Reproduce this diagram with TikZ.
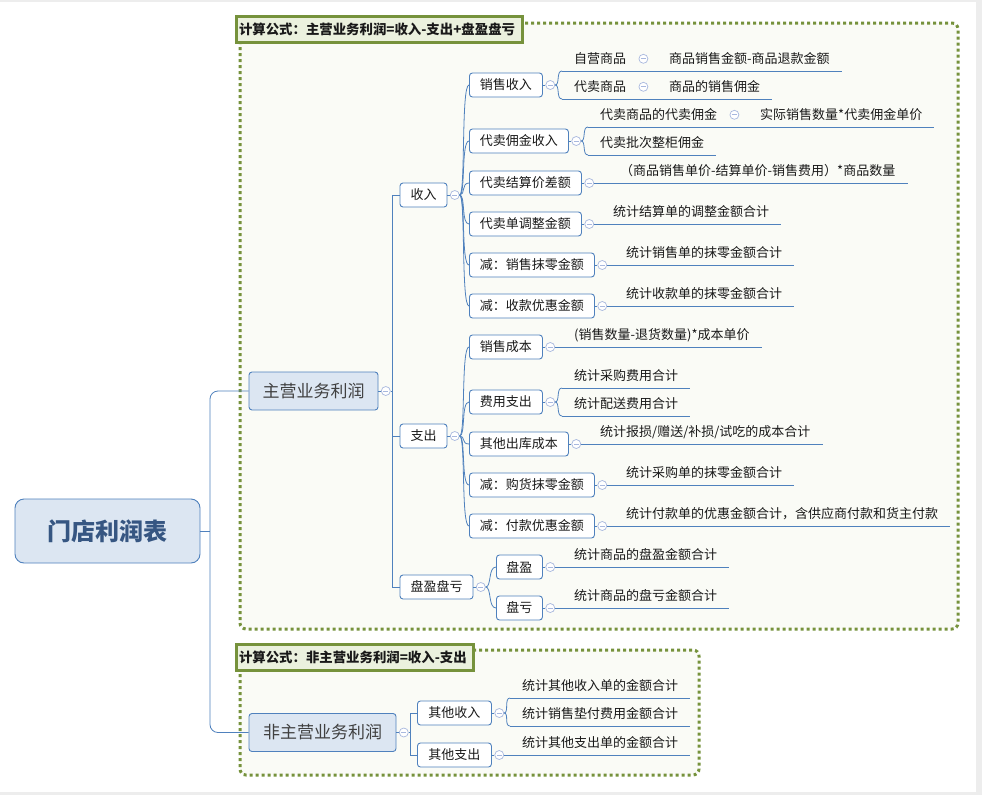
\documentclass[tikz,border=0pt]{standalone}
\usepackage{fontspec}
\newfontfamily\cjk{Noto Sans CJK SC}
\usetikzlibrary{positioning,calc}

\definecolor{linkc}{RGB}{79,129,189}
\definecolor{boxfill}{RGB}{220,230,242}
\definecolor{rootc}{RGB}{54,86,130}
\definecolor{zonegreen}{RGB}{118,146,60}
\definecolor{zonefill}{RGB}{250,251,246}
\definecolor{tagfill}{RGB}{235,241,222}
\definecolor{foldc}{RGB}{168,184,222}

\tikzset{
  link/.style={draw=linkc, line width=0.8pt},
  topic/.style={draw=linkc, line width=0.9pt, fill=white, rounded corners=3pt, minimum height=24pt, inner sep=0pt, font=\cjk\fontsize{13}{13}\selectfont},
  major/.style={topic, fill=boxfill, minimum height=38pt, font=\cjk\fontsize{17}{17}\selectfont, text=black!75},
  leaf/.style={anchor=south west, inner xsep=12pt, inner ysep=0pt, text height=10pt, text depth=7pt, font=\cjk\fontsize{13}{13}\selectfont},
  fold/.style={circle, draw=foldc, fill=white, minimum size=9pt, inner sep=0pt, line width=0.7pt,
    path picture={\draw[foldc, line width=0.7pt] ([xshift=-2.5pt]path picture bounding box.center) -- ([xshift=2.5pt]path picture bounding box.center);}},
  zone/.style={draw=zonegreen, fill=zonefill, line width=3pt, dash pattern=on 3pt off 3pt, rounded corners=6pt},
  tag/.style={draw=zonegreen, fill=tagfill, line width=3pt, anchor=west, inner xsep=3pt, align=left, minimum height=26pt, font=\cjk\bfseries\fontsize{13.4}{13.4}\selectfont},
}

\begin{document}
\begin{tikzpicture}[x=1pt, y=-1pt, font=\cjk, text=black!90]
	%FOND
	\fill[black!7] (0,0) rectangle (982,795);
	\fill[white] (0,2) rectangle (976,792);
	\useasboundingbox (0,0) rectangle (982,795);
	
	%ZONES
	\draw[zone] (240,23) rectangle (958,629);
	\draw[zone] (240,650) rectangle (699,775);
	\node[tag, text width=280pt] (tag1) at (234.5,29.5) {计算公式：主营业务利润=收入-支出+盘盈盘亏};
	\node[tag, text width=231pt] (tag2) at (234.5,657.5) {计算公式：非主营业务利润=收入-支出};
	
	%RACINE
	\node[topic, fill=boxfill, rounded corners=9pt, minimum width=185pt, minimum height=64pt, font=\cjk\bfseries\fontsize{24}{24}\selectfont, text=rootc] (root) at (107.5,531) {门店利润表};
	\node[major, minimum width=129pt] (main) at (313.5,391) {主营业务利润};
	\node[major, minimum width=147pt] (other) at (322.5,732.5) {非主营业务利润};
	\coordinate (trunk) at (210,531);
	\draw[link] (root.east) -- (trunk);
	\draw[link, rounded corners=8pt] (main.west) -| (trunk) |- (other.west);
	
	%NIVEAU 2
	\node[topic, minimum width=47pt] (sr) at (423.5,195) {收入};
	\node[topic, minimum width=47pt] (zc) at (423.5,436) {支出};
	\node[topic, minimum width=73pt] (pkk) at (436.5,587) {盘盈盘亏};
	\node[topic, anchor=west, minimum width=74pt] (qtsr) at (417,713) {其他收入};
	\node[topic, anchor=west, minimum width=74pt] (qtzc) at (417,755) {其他支出};
	
	%NIVEAU 3
	\node[topic, anchor=west, minimum width=73pt] (xssr) at (469,85) {销售收入};
	\node[topic, anchor=west, minimum width=99pt] (dmsr) at (469,141) {代卖佣金收入};
	\node[topic, anchor=west, minimum width=112pt] (jscj) at (469,183) {代卖结算价差额};
	\node[topic, anchor=west, minimum width=112pt] (dtz) at (469,224) {代卖单调整金额};
	\node[topic, anchor=west, minimum width=125pt] (xsml) at (469,265) {减：销售抹零金额};
	\node[topic, anchor=west, minimum width=125pt] (skyh) at (469,306) {减：收款优惠金额};
	\node[topic, anchor=west, minimum width=73pt] (xscb) at (469,347) {销售成本};
	\node[topic, anchor=west, minimum width=73pt] (fyzc) at (469,402) {费用支出};
	\node[topic, anchor=west, minimum width=99pt] (qtck) at (469,444) {其他出库成本};
	\node[topic, anchor=west, minimum width=125pt] (ghml) at (469,485) {减：购货抹零金额};
	\node[topic, anchor=west, minimum width=125pt] (fkyh) at (469,526) {减：付款优惠金额};
	\node[topic, anchor=west, minimum width=46pt] (py) at (496,567) {盘盈};
	\node[topic, anchor=west, minimum width=46pt] (pk) at (496,608) {盘亏};
	
	%BOUTONS
	\foreach \n in {main,other,sr,zc,pkk,qtsr,qtzc,xssr,dmsr,jscj,dtz,xsml,skyh,xscb,fyzc,qtck,ghml,fkyh,py,pk}{
		\node[fold, right=2.5pt of \n] (\n-f) {};
		\draw[link] (\n.east) -- (\n-f.west);
	}
	\coordinate[right=1.5pt of main-f] (main-j);
	\coordinate[right=1.5pt of other-f] (other-j);
	\draw[link] (main-f.east) -- (main-j);
	\draw[link] (other-f.east) -- (other-j);
	\foreach \c in {sr,zc,pkk} \draw[link] (main-j) |- (\c.west);
	\foreach \c in {qtsr,qtzc} \draw[link] (other-j) |- (\c.west);
	\foreach \c in {xssr,dmsr,jscj,dtz,xsml,skyh} \draw[link] (sr-f.east) .. controls +(6,0) and +(-8,0) .. (\c.west);
	\foreach \c in {xscb,fyzc,qtck,ghml,fkyh} \draw[link] (zc-f.east) .. controls +(6,0) and +(-8,0) .. (\c.west);
	\foreach \c in {py,pk} \draw[link] (pkk-f.east) .. controls +(6,0) and +(-8,0) .. (\c.west);
	
	%FEUILLES
	\node[leaf] (zy) at (562,71) {自营商品};
	\node[leaf] (zyv) at (657,71) {商品销售金额-商品退款金额};
	\node[leaf] (dsp) at (562,99) {代卖商品};
	\node[leaf] (dspv) at (657,99) {商品的销售佣金};
	\node[leaf] (dyj) at (588,127) {代卖商品的代卖佣金};
	\node[leaf] (dyjv) at (748,127) {实际销售数量*代卖佣金单价};
	\node[leaf] (pczg) at (588,155) {代卖批次整柜佣金};
	\node[leaf] (jscjv) at (608,183) {（商品销售单价-结算单价-销售费用）*商品数量};
	\node[leaf] (dtzv) at (601,224) {统计结算单的调整金额合计};
	\node[leaf] (xsmlv) at (614,265) {统计销售单的抹零金额合计};
	\node[leaf] (skyhv) at (614,306) {统计收款单的抹零金额合计};
	\node[leaf] (xscbv) at (562,347) {(销售数量-退货数量)*成本单价};
	\node[leaf] (cgfy) at (562,388) {统计采购费用合计};
	\node[leaf] (psfy) at (562,416) {统计配送费用合计};
	\node[leaf] (qtckv) at (588,444) {统计报损/赠送/补损/试吃的成本合计};
	\node[leaf] (ghmlv) at (614,485) {统计采购单的抹零金额合计};
	\node[leaf] (fkyhv) at (614,526) {统计付款单的优惠金额合计，含供应商付款和货主付款};
	\node[leaf] (pyv) at (562,567) {统计商品的盘盈金额合计};
	\node[leaf] (pkv) at (562,608) {统计商品的盘亏金额合计};
	\node[leaf] (qsr1) at (510,698) {统计其他收入单的金额合计};
	\node[leaf] (qsr2) at (510,726) {统计销售垫付费用金额合计};
	\node[leaf] (qzcv) at (510,755) {统计其他支出单的金额合计};
	\foreach \n in {zy,zyv,dsp,dspv,dyj,dyjv,pczg,jscjv,dtzv,xsmlv,skyhv,xscbv,cgfy,psfy,qtckv,ghmlv,fkyhv,pyv,pkv,qsr1,qsr2,qzcv}
		\draw[link] (\n.south west) -- (\n.south east);
	\foreach \n in {zy,dsp,dyj}{
		\node[fold] (\n-f) at ([xshift=5pt, yshift=5pt]\n.base east) {};
	}
	\draw[link] (zy.south east) -- (zyv.south west);
	\draw[link] (dsp.south east) -- (dspv.south west);
	\draw[link] (dyj.south east) -- (dyjv.south west);
	\draw[link] (xssr-f.east) .. controls +(5,0) and +(-6,0) .. (zy.south west);
	\draw[link] (xssr-f.east) .. controls +(5,0) and +(-6,0) .. (dsp.south west);
	\draw[link] (dmsr-f.east) .. controls +(5,0) and +(-6,0) .. (dyj.south west);
	\draw[link] (dmsr-f.east) .. controls +(5,0) and +(-6,0) .. (pczg.south west);
	\draw[link] (fyzc-f.east) .. controls +(5,0) and +(-6,0) .. (cgfy.south west);
	\draw[link] (fyzc-f.east) .. controls +(5,0) and +(-6,0) .. (psfy.south west);
	\draw[link] (qtsr-f.east) .. controls +(5,0) and +(-6,0) .. (qsr1.south west);
	\draw[link] (qtsr-f.east) .. controls +(5,0) and +(-6,0) .. (qsr2.south west);
	\foreach \a/\b in {jscj/jscjv,dtz/dtzv,xsml/xsmlv,skyh/skyhv,xscb/xscbv,qtck/qtckv,ghml/ghmlv,fkyh/fkyhv,py/pyv,pk/pkv,qtzc/qzcv}
		\draw[link] (\a-f.east) -- (\b.south west);
\end{tikzpicture}
\end{document}
